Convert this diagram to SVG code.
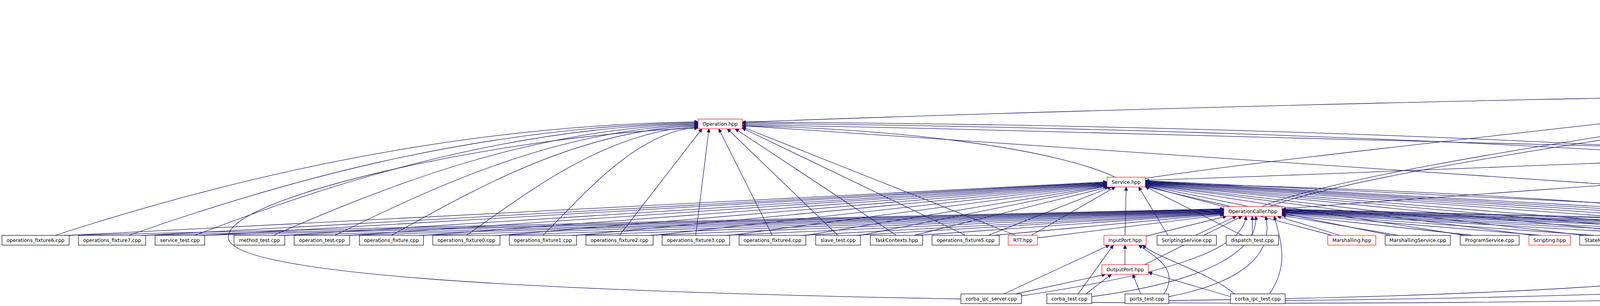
<svg xmlns="http://www.w3.org/2000/svg" width="6173" height="784" viewBox="0 0 6173 784">
<style>
.n rect{fill:#fff;stroke:#000;stroke-width:1.2}
.r rect{stroke:#f00}
.g rect{fill:#bfbfbf}
text{font-family:"DejaVu Sans","Liberation Sans",sans-serif;font-size:12.5px;text-anchor:middle;fill:#000}
.e path{fill:none;stroke:#191970;stroke-width:1.3;marker-end:url(#ah)}
</style>
<defs>
<marker id="ah" viewBox="0 0 10 10" refX="10" refY="5" markerUnits="userSpaceOnUse" markerWidth="13" markerHeight="9" orient="auto"><path d="M0,0 L10,5 L0,10 z" fill="#191970" stroke="#191970"/></marker>
</defs>
<rect width="6173" height="784" fill="#fff"/>
<g id="edges" class="e">
<path d="M5071,80 L5071,30"/>
<path d="M5130,155 L5090,105"/>
<path d="M5200,155 C5260,110 5200,50 5130,30"/>
<path d="M4720,229 C4800,160 4980,120 5040,105"/>
<path d="M4760,229 L5080,180"/>
<path d="M5850,304 C5700,200 5300,110 5120,100"/>
<path d="M5820,304 L5220,180"/>
<path d="M4950,379 C5050,300 5120,230 5130,180"/>
<path d="M4860,379 L4720,254"/>
<path d="M5000,454 L4960,404"/>
<path d="M5600,454 L5010,404"/>
<path d="M1900,313 C2800,280 4000,250 4593,244"/>
<path d="M1900,319 C3000,340 4200,380 4787,392"/>
<path d="M2855,454 C2700,380 2300,330 1900,322"/>
<path d="M2932,457 C3300,400 4300,300 4620,254"/>
<path d="M2932,462 C3600,440 4300,405 4787,398"/>
<path d="M3150,529 L2932,478"/>
<path d="M3250,529 C3600,400 5000,250 5100,180"/>
<path d="M3230,529 C3500,420 4500,300 4660,254"/>
<path d="M3282,535 C4000,480 5500,380 5850,329"/>
<path d="M2880,603 L2883,479"/>
<path d="M2934,605 L3140,554"/>
<path d="M2880,678 L2880,628"/>
<path d="M2930,678 L3180,554"/>
<path d="M141,603 C552,470 1129,322 1787,312"/>
<path d="M330,603 C694,475 1204,324 1787,314"/>
<path d="M499,603 C821,480 1272,326 1787,316"/>
<path d="M700,603 C972,485 1352,328 1787,318"/>
<path d="M857,603 C1090,490 1415,330 1787,320"/>
<path d="M1002,603 C1198,495 1473,332 1787,322"/>
<path d="M1194,603 C1342,500 1550,334 1787,324"/>
<path d="M1390,603 C1489,505 1628,336 1787,326"/>
<path d="M1586,603 L1797,330"/>
<path d="M1781,603 L1815,330"/>
<path d="M1977,603 L1840,330"/>
<path d="M2145,603 L1862,330"/>
<path d="M2295,603 L1882,330"/>
<path d="M2472,603 L1900,328"/>
<path d="M2600,603 L1900,325"/>
<path d="M5690,603 C5600,430 3500,330 1900,316"/>
<path d="M5850,603 C5700,420 3600,320 1900,313"/>
<path d="M6040,603 L1900,322"/>
<path d="M2460,766 C1300,745 560,700 585,603 C600,500 1300,345 1787,328"/>
<path d="M177,603 L2834,466"/>
<path d="M373,603 L2834,467"/>
<path d="M524,603 L2834,468"/>
<path d="M729,603 L2834,469"/>
<path d="M895,603 L2834,470"/>
<path d="M1084,603 L2834,471"/>
<path d="M1280,603 L2834,472"/>
<path d="M1476,603 L2834,473"/>
<path d="M1672,603 L2834,474"/>
<path d="M1868,603 L2834,475"/>
<path d="M2063,603 L2834,476"/>
<path d="M2203,603 L2834,477"/>
<path d="M2340,603 L2838,479"/>
<path d="M2530,603 L2845,479"/>
<path d="M2640,603 L2855,479"/>
<path d="M165,603 L3133,535"/>
<path d="M361,603 L3133,536"/>
<path d="M512,603 L3133,537"/>
<path d="M717,603 L3133,538"/>
<path d="M883,603 L3133,539"/>
<path d="M1072,603 L3133,540"/>
<path d="M1268,603 L3133,541"/>
<path d="M1464,603 L3133,542"/>
<path d="M1660,603 L3133,543"/>
<path d="M1856,603 L3133,544"/>
<path d="M2051,603 L3133,545"/>
<path d="M2190,603 L3133,546"/>
<path d="M2350,603 L3133,547"/>
<path d="M2545,603 L3133,548"/>
<path d="M2653,610 L3133,550"/>
<path d="M2990,603 L2915,479"/>
<path d="M3060,603 L3165,554"/>
<path d="M3180,603 L2932,478"/>
<path d="M3206,603 L3206,554"/>
<path d="M3410,603 L2932,476"/>
<path d="M3430,603 L3270,554"/>
<path d="M3560,603 L2932,475"/>
<path d="M3580,603 L3282,552"/>
<path d="M3750,603 L2932,474"/>
<path d="M3770,603 L3282,550"/>
<path d="M3925,603 L2932,473"/>
<path d="M3945,603 L3282,548"/>
<path d="M4055,603 L2932,472"/>
<path d="M4080,603 L3282,546"/>
<path d="M4265,603 L2932,471"/>
<path d="M4290,603 L3282,545"/>
<path d="M4415,603 L2932,470"/>
<path d="M4440,603 L3282,544"/>
<path d="M4570,603 L2932,469"/>
<path d="M4600,603 L3282,543"/>
<path d="M4790,603 L2932,468"/>
<path d="M4815,603 L3282,542"/>
<path d="M4950,603 L2932,467"/>
<path d="M4975,603 L3282,541"/>
<path d="M5110,603 L2932,466"/>
<path d="M5135,603 L3282,540"/>
<path d="M5260,603 L2932,465"/>
<path d="M5290,603 L3282,539"/>
<path d="M5415,603 L2932,464"/>
<path d="M5440,603 L3282,538"/>
<path d="M5810,603 L2932,463"/>
<path d="M5830,603 L3282,537"/>
<path d="M6020,603 L3282,536"/>
<path d="M5700,603 C5650,450 5000,300 4775,250"/>
<path d="M5874,603 C5700,450 5400,250 5234,178"/>
<path d="M5894,603 L5894,329"/>
<path d="M6050,603 C5700,480 5000,300 4775,252"/>
<path d="M6083,603 L5970,329"/>
<path d="M2570,753 L2840,628"/>
<path d="M2600,753 L2830,703"/>
<path d="M2615,758 C3000,700 3180,640 3190,554"/>
<path d="M2760,753 L2850,628"/>
<path d="M2780,753 L2845,703"/>
<path d="M2795,760 C3100,720 3220,640 3215,554"/>
<path d="M2980,753 C3020,690 2960,660 2915,628"/>
<path d="M2920,753 L2900,703"/>
<path d="M2992,760 C3200,720 3260,640 3240,554"/>
<path d="M2992,770 C3800,760 4720,720 4718,620 C4715,540 3600,480 2937,470"/>
<path d="M3160,753 C3100,700 2960,660 2925,628"/>
<path d="M3150,760 L2940,698"/>
<path d="M3250,753 C3300,680 3280,620 3262,554"/>
<path d="M3290,770 C4400,760 5530,700 5528,620 C5525,540 5300,420 5018,400"/>
<path d="M2795,775 C4000,784 5600,760 5570,650 C5540,540 5000,300 4775,250"/>
</g>
<g id="n_InvokerBase" class="n g"><rect x="5007" y="5" width="128" height="25"/><text x="5071" y="22">InvokerBase.hpp</text></g>
<g id="n_Invoker" class="n"><rect x="5022" y="80" width="98" height="25"/><text x="5071" y="97">Invoker.hpp</text></g>
<g id="n_OperationCallerBase" class="n"><rect x="5054" y="155" width="180" height="25"/><text x="5144" y="172">OperationCallerBase.hpp</text></g>
<g id="n_LocalOperationCaller" class="n"><rect x="4593" y="229" width="182" height="25"/><text x="4684" y="246">LocalOperationCaller.hpp</text></g>
<g id="n_Operation" class="n r"><rect x="1787" y="305" width="113" height="25"/><text x="1843.5" y="322">Operation.hpp</text></g>
<g id="n_RemoteOperationCaller" class="n"><rect x="5795" y="304" width="198" height="25"/><text x="5894" y="321">RemoteOperationCaller.hpp</text></g>
<g id="n_OIPF_hpp" class="n"><rect x="4787" y="379" width="231" height="25"/><text x="4902.5" y="396">OperationInterfacePartFused.hpp</text></g>
<g id="n_Service" class="n r"><rect x="2834" y="454" width="98" height="25"/><text x="2883" y="471">Service.hpp</text></g>
<g id="n_OperationInterface" class="n r"><rect x="4947" y="454" width="153" height="25"/><text x="5023.5" y="471">OperationInterface.h</text></g>
<g id="n_OIPF_cpp" class="n"><rect x="5537" y="454" width="230" height="25"/><text x="5652" y="471">OperationInterfacePartFused.cpp</text></g>
<g id="n_OperationCaller" class="n r"><rect x="3133" y="529" width="149" height="25"/><text x="3207.5" y="546">OperationCaller.hpp</text></g>
<g id="n_of6" class="n"><rect x="5" y="603" width="172" height="25"/><text x="91" y="620">operations_fixture6.cpp</text></g>
<g id="n_of7" class="n"><rect x="201" y="603" width="172" height="25"/><text x="287" y="620">operations_fixture7.cpp</text></g>
<g id="n_service_test" class="n"><rect x="397" y="603" width="127" height="25"/><text x="460.5" y="620">service_test.cpp</text></g>
<g id="n_method_test" class="n"><rect x="599" y="603" width="130" height="25"/><text x="664" y="620">method_test.cpp</text></g>
<g id="n_operation_test" class="n"><rect x="753" y="603" width="142" height="25"/><text x="824" y="620">operation_test.cpp</text></g>
<g id="n_of" class="n"><rect x="920" y="603" width="164" height="25"/><text x="1002" y="620">operations_fixture.cpp</text></g>
<g id="n_of0" class="n"><rect x="1108" y="603" width="172" height="25"/><text x="1194" y="620">operations_fixture0.cpp</text></g>
<g id="n_of1" class="n"><rect x="1304" y="603" width="172" height="25"/><text x="1390" y="620">operations_fixture1.cpp</text></g>
<g id="n_of2" class="n"><rect x="1500" y="603" width="172" height="25"/><text x="1586" y="620">operations_fixture2.cpp</text></g>
<g id="n_of3" class="n"><rect x="1695" y="603" width="173" height="25"/><text x="1781.5" y="620">operations_fixture3.cpp</text></g>
<g id="n_of4" class="n"><rect x="1892" y="603" width="171" height="25"/><text x="1977.5" y="620">operations_fixture4.cpp</text></g>
<g id="n_slave_test" class="n"><rect x="2088" y="603" width="115" height="25"/><text x="2145.5" y="620">slave_test.cpp</text></g>
<g id="n_TaskContexts" class="n"><rect x="2228" y="603" width="134" height="25"/><text x="2295" y="620">TaskContexts.hpp</text></g>
<g id="n_of5" class="n"><rect x="2386" y="603" width="172" height="25"/><text x="2472" y="620">operations_fixture5.cpp</text></g>
<g id="n_RTT" class="n r"><rect x="2581" y="603" width="75" height="25"/><text x="2618.5" y="620">RTT.hpp</text></g>
<g id="n_InputPort" class="n r"><rect x="2826" y="603" width="108" height="25"/><text x="2880" y="620">InputPort.hpp</text></g>
<g id="n_ScriptingService" class="n"><rect x="2962" y="603" width="152" height="25"/><text x="3038" y="620">ScriptingService.cpp</text></g>
<g id="n_dispatch_test" class="n"><rect x="3139" y="603" width="134" height="25"/><text x="3206" y="620">dispatch_test.cpp</text></g>
<g id="n_Marshalling" class="n r"><rect x="3399" y="603" width="123" height="25"/><text x="3460.5" y="620">Marshalling.hpp</text></g>
<g id="n_MarshallingService" class="n"><rect x="3546" y="603" width="167" height="25"/><text x="3629.5" y="620">MarshallingService.cpp</text></g>
<g id="n_ProgramService" class="n"><rect x="3738" y="603" width="151" height="25"/><text x="3813.5" y="620">ProgramService.cpp</text></g>
<g id="n_Scripting" class="n r"><rect x="3914" y="603" width="106" height="25"/><text x="3967" y="620">Scripting.hpp</text></g>
<g id="n_StateMachineService" class="n"><rect x="4044" y="603" width="184" height="25"/><text x="4136" y="620">StateMachineService.cpp</text></g>
<g id="n_TaskContext" class="n"><rect x="4253" y="603" width="126" height="25"/><text x="4316" y="620">TaskContext.cpp</text></g>
<g id="n_TaskContextI" class="n"><rect x="4404" y="603" width="129" height="25"/><text x="4468.5" y="620">TaskContextI.cpp</text></g>
<g id="n_taskstates_test" class="n"><rect x="4557" y="603" width="148" height="25"/><text x="4631" y="620">taskstates_test.cpp</text></g>
<g id="n_function_test" class="n"><rect x="4781" y="603" width="132" height="25"/><text x="4847" y="620">function_test.cpp</text></g>
<g id="n_program_test" class="n"><rect x="4938" y="603" width="136" height="25"/><text x="5006" y="620">program_test.cpp</text></g>
<g id="n_rtstring_test" class="n"><rect x="5099" y="603" width="126" height="25"/><text x="5162" y="620">rtstring_test.cpp</text></g>
<g id="n_PortInterface" class="n"><rect x="5250" y="603" width="132" height="25"/><text x="5316" y="620">PortInterface.cpp</text></g>
<g id="n_state_test" class="n"><rect x="5404" y="603" width="115" height="25"/><text x="5461.5" y="620">state_test.cpp</text></g>
<g id="n_functors_test" class="n"><rect x="5645" y="603" width="133" height="25"/><text x="5711.5" y="620">functors_test.cpp</text></g>
<g id="n_remote_method_test" class="n"><rect x="5802" y="603" width="186" height="25"/><text x="5895" y="620">remote_method_test.cpp</text></g>
<g id="n_generictask_test" class="n"><rect x="6012" y="603" width="156" height="25"/><text x="6090" y="620">generictask_test.cpp</text></g>
<g id="n_OutputPort" class="n r"><rect x="2821" y="678" width="119" height="25"/><text x="2880.5" y="695">OutputPort.hpp</text></g>
<g id="n_corba_ipc_server" class="n"><rect x="2460" y="753" width="155" height="25"/><text x="2537.5" y="770">corba_ipc_server.cpp</text></g>
<g id="n_corba_test" class="n"><rect x="2680" y="753" width="115" height="25"/><text x="2737.5" y="770">corba_test.cpp</text></g>
<g id="n_ports_test" class="n"><rect x="2880" y="753" width="112" height="25"/><text x="2936" y="770">ports_test.cpp</text></g>
<g id="n_corba_ipc_test" class="n"><rect x="3150" y="753" width="140" height="25"/><text x="3220" y="770">corba_ipc_test.cpp</text></g>
</svg>
